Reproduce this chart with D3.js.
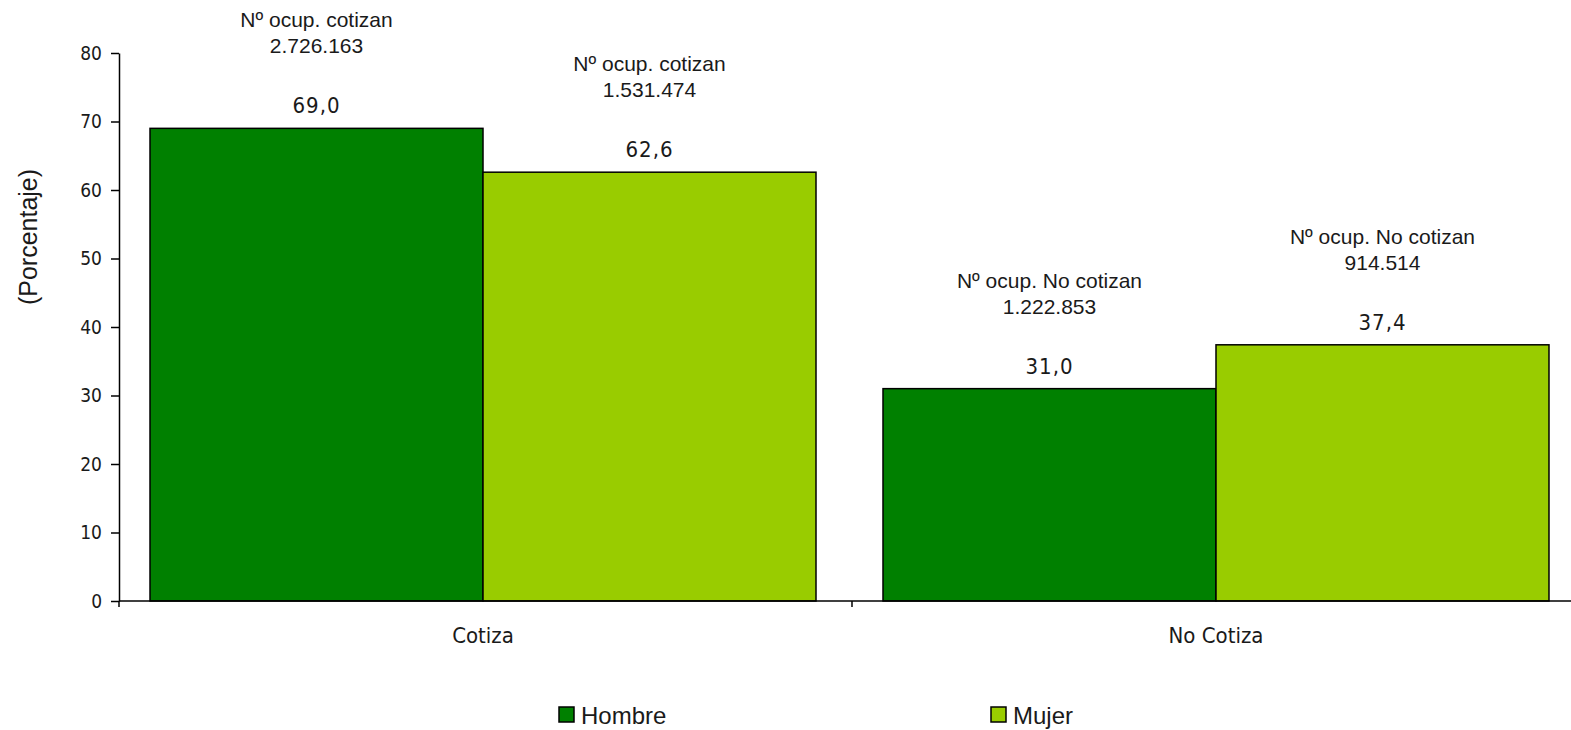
<!DOCTYPE html>
<html>
<head>
<meta charset="utf-8">
<title>Ocupados que cotizan</title>
<script src="https://d3js.org/d3.v7.min.js"></script>
<style>
    body { margin: 0; background: #fff; }
    .tahoma { font-family: "DejaVu Sans Condensed", "DejaVu Sans", sans-serif; fill: #1a1a1a; }
    .arial { font-family: "Liberation Sans", Arial, sans-serif; fill: #1a1a1a; }
    .axis path, .axis line { stroke: #000; stroke-width: 1.5px; }
</style>
</head>
<body>
<div id="chart"></div>
<script>
// data
var categories = ["Cotiza", "No Cotiza"];
var series = ["Hombre", "Mujer"];
var hombre = [69.0, 31.0];
var mujer = [62.6, 37.4];
var hombreOcup = [2726163, 1222853];
var mujerOcup = [1531474, 914514];
var ocupText = ["Nº ocup. cotizan", "Nº ocup. No cotizan"];
var yTicks = [0, 10, 20, 30, 40, 50, 60, 70, 80];
var colors = ["#008000", "#99cc00"];

var width = 1571, height = 730;

var es = d3.formatLocale({decimal: ",", thousands: ".", grouping: [3], currency: ["", " €"]});
var fmtPct = es.format(".1f");
var fmtNum = es.format(",d");

var svg = d3.select("#chart").append("svg")
    .attr("width", width)
    .attr("height", height);

var x = d3.scaleBand().domain(categories).range([119, 1580])
    .paddingInner(0.0914).paddingOuter(0.0423);
var xs = d3.scaleBand().domain(series).range([0, x.bandwidth()]);
var y = d3.scaleLinear().domain([0, 80]).range([601, 53]);
var color = d3.scaleOrdinal().domain(series).range(colors);

// rows: one per bar
var rows = [];
categories.forEach(function(c, i) {
    rows.push({cat: c, s: "Hombre", v: hombre[i], n: hombreOcup[i], t: ocupText[i]});
    rows.push({cat: c, s: "Mujer", v: mujer[i], n: mujerOcup[i], t: ocupText[i]});
});

// bars
svg.selectAll(".bar")
    .data(rows)
    .enter().append("rect")
    .attr("class", "bar")
    .attr("x", d => x(d.cat) + xs(d.s))
    .attr("y", d => y(d.v))
    .attr("width", xs.bandwidth())
    .attr("height", d => y(0) - y(d.v))
    .attr("fill", d => color(d.s))
    .attr("stroke", "#000")
    .attr("stroke-width", 1.5);

// y axis
var yAxis = svg.append("g")
    .attr("class", "axis")
    .attr("transform", "translate(" + x.range()[0] + ",0)")
    .call(d3.axisLeft(y).tickValues(yTicks).tickSize(8).tickSizeOuter(0).tickPadding(9));
yAxis.selectAll("text")
    .attr("class", "tahoma")
    .attr("font-size", "19px")
    .attr("fill", "#1a1a1a");

// x axis line + category boundary ticks
var xAxis = svg.append("g").attr("class", "axis");
xAxis.append("line")
    .attr("x1", x.range()[0]).attr("x2", x.range()[1])
    .attr("y1", y(0)).attr("y2", y(0));
var bounds = d3.range(categories.length + 1).map(i => x.range()[0] + i * x.step());
xAxis.selectAll(".btick")
    .data(bounds)
    .enter().append("line")
    .attr("x1", d => d).attr("x2", d => d)
    .attr("y1", y(0)).attr("y2", y(0) + 6);

svg.selectAll(".cat")
    .data(categories)
    .enter().append("text")
    .attr("class", "tahoma")
    .attr("x", d => x(d) + x.bandwidth() / 2)
    .attr("y", y(0) + 42)
    .attr("text-anchor", "middle")
    .attr("font-size", "22px")
    .text(d => d);

// value labels
svg.selectAll(".val")
    .data(rows)
    .enter().append("text")
    .attr("class", "tahoma")
    .attr("x", d => x(d.cat) + xs(d.s) + xs.bandwidth() / 2)
    .attr("y", d => y(d.v) - 15)
    .attr("text-anchor", "middle")
    .attr("font-size", "22px")
    .attr("letter-spacing", "1px")
    .text(d => fmtPct(d.v));

// ocupados labels
var note = svg.selectAll(".note")
    .data(rows)
    .enter().append("text")
    .attr("class", "arial")
    .attr("text-anchor", "middle")
    .attr("font-size", "21px");
note.append("tspan")
    .attr("x", d => x(d.cat) + xs(d.s) + xs.bandwidth() / 2)
    .attr("y", d => y(d.v) - 101)
    .text(d => d.t);
note.append("tspan")
    .attr("x", d => x(d.cat) + xs(d.s) + xs.bandwidth() / 2)
    .attr("y", d => y(d.v) - 75)
    .text(d => fmtNum(d.n));

// y title
svg.append("text")
    .attr("class", "arial")
    .attr("transform", "translate(37,237) rotate(-90)")
    .attr("text-anchor", "middle")
    .attr("font-size", "25px")
    .text("(Porcentaje)");

// legend
var lx = d3.scalePoint().domain(series).range([559, 991]);
var leg = svg.selectAll(".legend")
    .data(series)
    .enter().append("g")
    .attr("transform", d => "translate(" + lx(d) + ",707)");
leg.append("rect")
    .attr("width", 15).attr("height", 15)
    .attr("fill", d => color(d))
    .attr("stroke", "#000")
    .attr("stroke-width", 1.5);
leg.append("text")
    .attr("class", "arial")
    .attr("x", 22)
    .attr("y", 17)
    .attr("font-size", "24px")
    .text(d => d);
</script>
</body>
</html>
